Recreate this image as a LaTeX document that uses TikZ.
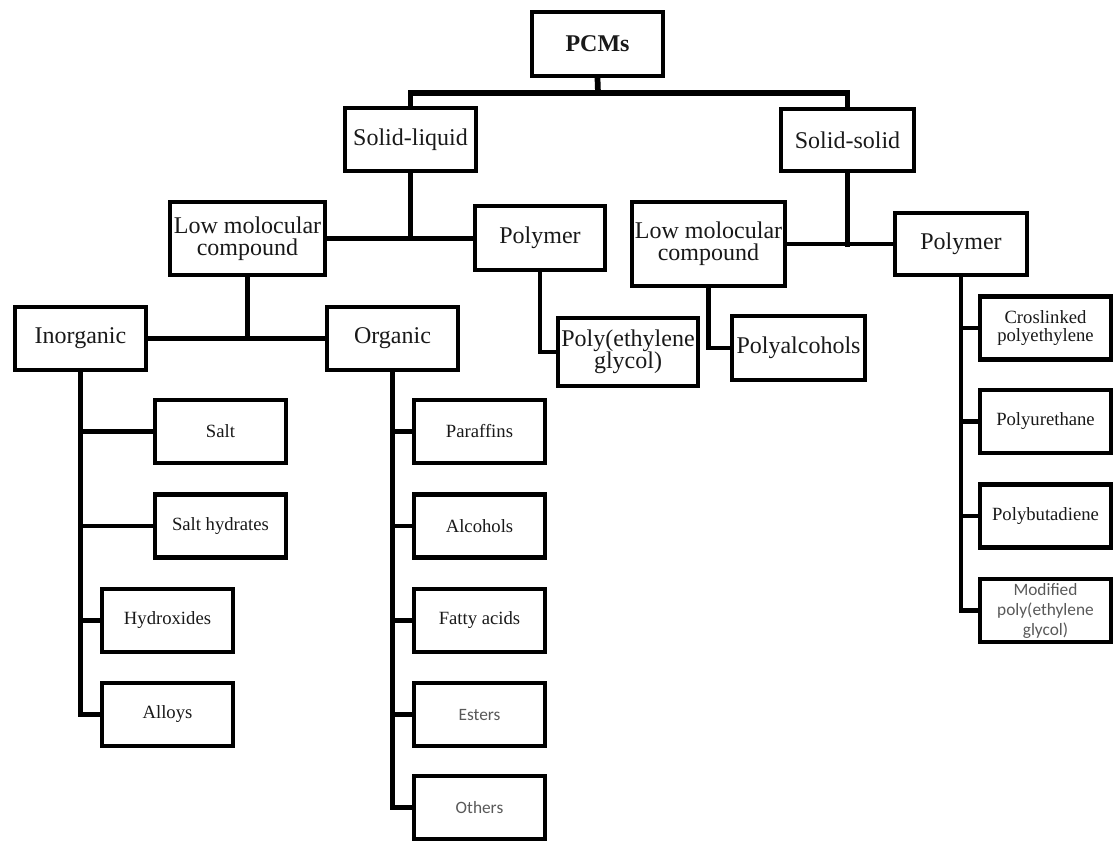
\documentclass[tikz,border=0pt]{standalone}
\usepackage{fontspec}
\setmainfont{Liberation Serif}
\newfontfamily\serf{Liberation Serif}
\newfontfamily\sansf{Carlito}
\newcommand{\bigf}{\serf\fontsize{18}{16.5}\selectfont}
\newcommand{\smf}{\serf\fontsize{14}{13.5}\selectfont}
\newcommand{\snf}{\sansf\fontsize{13}{15}\selectfont}
\begin{document}
\begin{tikzpicture}[x=0.75pt,y=-0.75pt,
  box/.style={draw, line width=3.3pt, fill=white, inner sep=0pt, align=center, text=black!90},
  bigbox/.style={box, font=\bigf},
  smallbox/.style={box, font=\smf, minimum width=98.25pt, minimum height=47.25pt},
  sansbox/.style={box, font=\snf, text=black!65, minimum width=98.25pt, minimum height=47.25pt},
  link/.style={line width=3.3pt, line cap=rect},
  stem/.style={line width=4.3pt, line cap=rect}]
\useasboundingbox (0,0) rectangle (1115,842);
% level 0
\node[bigbox, font=\bigf\bfseries, minimum width=98.25pt, minimum height=48pt] (pcm) at (597.5,44) {PCMs};
% level 1
\node[bigbox, minimum width=98.25pt, minimum height=47.25pt] (sl) at (410.5,139.5) {Solid-liquid};
\node[bigbox, minimum width=99.75pt, minimum height=46.5pt] (ss) at (847.5,140) {Solid-solid};
% level 2
\node[bigbox, minimum width=116.25pt, minimum height=54.75pt] (lmcl) at (247.5,238.5) {Low molocular\\compound};
\node[bigbox, minimum width=97.5pt, minimum height=48pt] (pml) at (540,238) {Polymer};
\node[bigbox, minimum width=114.75pt, minimum height=63pt] (lmcr) at (708.5,244) {Low molocular\\compound};
\node[bigbox, minimum width=99pt, minimum height=46.5pt] (pmr) at (961,244) {Polymer};
% level 3
\node[bigbox, minimum width=98.25pt, minimum height=47.25pt] (inorg) at (80.5,338.5) {Inorganic};
\node[bigbox, minimum width=98.25pt, minimum height=47.25pt] (org) at (392.5,338.5) {Organic};
\node[bigbox, minimum width=105pt, minimum height=51pt] (peg) at (628,352) {Poly(ethylene\\glycol)};
\node[bigbox, minimum width=99.75pt, minimum height=48pt] (palc) at (798.5,348) {Polyalcohols};
% inorganic children
\node[smallbox] (salt) at (220.5,431.5) {Salt};
\node[smallbox] (salth) at (220.5,526) {Salt hydrates};
\node[smallbox] (hydr) at (167.5,620.5) {Hydroxides};
\node[smallbox] (alloy) at (167.5,714.5) {Alloys};
% organic children
\node[smallbox] (paraf) at (479.5,431.5) {Paraffins};
\node[smallbox] (alco) at (479.5,526) {Alcohols};
\node[smallbox] (fatty) at (479.5,620.5) {Fatty acids};
\node[sansbox] (ester) at (479.5,714.5) {Esters};
\node[sansbox] (other) at (479.5,807.5) {Others};
% solid-solid polymer children
\node[smallbox] (xpe) at (1045.5,328) {Croslinked\\polyethylene};
\node[smallbox] (pu) at (1045.5,421.5) {Polyurethane};
\node[smallbox] (pb) at (1045.5,516) {Polybutadiene};
\node[sansbox] (mpeg) at (1045.5,610.5) {Modified\\poly(ethylene\\glycol)};
% connectors
\coordinate (bar) at (598,93);
\draw[stem] (pcm.south) -- (bar);
\draw[stem] (sl.north) |- (bar) -| (ss.north);
\draw[stem] (sl.south) -- (sl.south |- lmcl.east);
\draw[link] (lmcl.east) -- (lmcl.east -| pml.west);
\draw[stem] (ss.south) -- (ss.south |- pmr.west);
\draw[link] (lmcr.east |- pmr.west) -- (pmr.west);
\draw[stem] (lmcl.south) -- (lmcl.south |- inorg.east);
\draw[link] (inorg.east) -- (org.west);
\draw[link] (pml.south) |- (peg.west);
\draw[link] (lmcr.south) |- (palc.west);
\draw[link] (inorg.south) |- (alloy.west);
\foreach \c in {salt,salth,hydr}{\draw[link] (inorg.south |- \c.west) -- (\c.west);}
\draw[link] (org.south) |- (other.west);
\foreach \c in {paraf,alco,fatty,ester}{\draw[link] (org.south |- \c.west) -- (\c.west);}
\draw[link] (pmr.south) |- (mpeg.west);
\foreach \c in {xpe,pu,pb}{\draw[link] (pmr.south |- \c.west) -- (\c.west);}
\end{tikzpicture}
\end{document}
